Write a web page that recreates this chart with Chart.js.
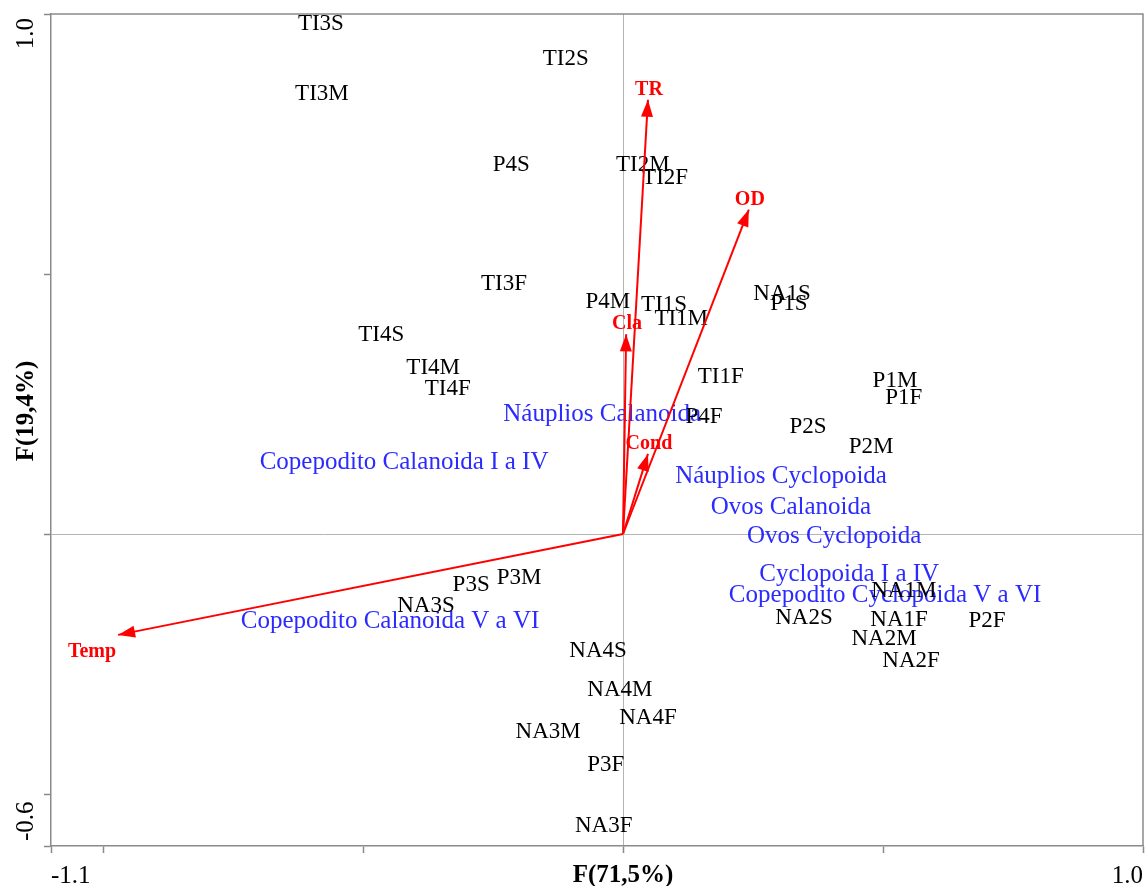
<!DOCTYPE html>
<html>
<head>
<meta charset="utf-8">
<title>CCA</title>
<script src="https://cdn.jsdelivr.net/npm/chart.js@4.4.1/dist/chart.umd.min.js"></script>
<style>
    html, body { margin: 0; padding: 0; background: #fff; }
    #wrap { width: 1147px; height: 886px; }
</style>
</head>
<body>
<div id="wrap"><canvas id="myChart"></canvas></div>
<script>
// amostras (scores)
const sampleNames = ["TI3S", "TI2S", "TI3M", "TI2M", "TI2F", "P4S", "TI3F", "P4M", "TI1S", "TI1M",
    "NA1S", "P1S", "TI4S", "TI4M", "TI4F", "TI1F", "P1M", "P1F", "P4F", "P2S", "P2M",
    "P3S", "P3M", "NA3S", "NA1M", "NA2S", "NA1F", "P2F", "NA2M", "NA2F",
    "NA4S", "NA4M", "NA4F", "NA3M", "P3F", "NA3F"];
const sampleX = [-0.581, -0.110, -0.579, 0.038, 0.081, -0.215, -0.229, -0.029, 0.079, 0.112,
    0.306, 0.319, -0.465, -0.365, -0.337, 0.188, 0.523, 0.540, 0.156, 0.356, 0.477,
    -0.292, -0.200, -0.379, 0.540, 0.348, 0.531, 0.700, 0.502, 0.554,
    -0.048, -0.006, 0.048, -0.144, -0.033, -0.037];
const sampleY = [0.985, 0.917, 0.850, 0.714, 0.689, 0.714, 0.484, 0.451, 0.445, 0.418,
    0.466, 0.447, 0.386, 0.324, 0.282, 0.305, 0.298, 0.265, 0.228, 0.209, 0.171,
    -0.094, -0.081, -0.134, -0.106, -0.157, -0.161, -0.163, -0.198, -0.240,
    -0.221, -0.296, -0.349, -0.376, -0.440, -0.557];

// espécies
const speciesNames = ["Náuplios Calanoida", "Copepodito Calanoida I a IV", "Náuplios Cyclopoida",
    "Ovos Calanoida", "Ovos Cyclopoida", "Cyclopoida I a IV", "Copepodito Cyclopoida V a VI",
    "Copepodito Calanoida V a VI"];
const speciesX = [-0.040, -0.421, 0.304, 0.323, 0.406, 0.435, 0.504, -0.448];
const speciesY = [0.234, 0.142, 0.115, 0.054, 0.000, -0.073, -0.115, -0.165];

// variáveis ambientais
const envNames = ["TR", "OD", "Cla", "Cond", "Temp"];
const envX = [0.048, 0.242, 0.006, 0.048, -0.971];
const envY = [0.835, 0.624, 0.384, 0.154, -0.194];

const xMin = -1.1, xMax = 1.0;
const yMin = -0.6, yMax = 1.0;
const xTicks = [-1.1, -1.0, -0.5, 0, 0.5, 1.0];
const yTicks = [-0.6, -0.5, 0, 0.5, 1.0];

const serif = '"Liberation Serif", "Times New Roman", serif';
const axisGray = "#8a8a8a";

let datasets = [];
datasets.push({
    label: "Amostras",
    data: sampleNames.map((n, i) => ({ x: sampleX[i], y: sampleY[i] })),
    pointRadius: 0,
    showLine: false
});
datasets.push({
    label: "Espécies",
    data: speciesNames.map((n, i) => ({ x: speciesX[i], y: speciesY[i] })),
    pointRadius: 0,
    showLine: false
});
envNames.forEach((n, i) => {
    datasets.push({
        label: n,
        data: [{ x: 0, y: 0 }, { x: envX[i], y: envY[i] }],
        showLine: true,
        borderColor: "#ff0000",
        borderWidth: 2,
        pointRadius: 0
    });
});

const labelsPlugin = {
    id: "labels",
    beforeDatasetsDraw(chart) {
        const ctx = chart.ctx;
        const area = chart.chartArea;
        ctx.save();
        // moldura
        ctx.strokeStyle = axisGray;
        ctx.lineWidth = 1.5;
        ctx.beginPath();
        ctx.moveTo(area.left, area.top);
        ctx.lineTo(area.right, area.top);
        ctx.lineTo(area.right, area.bottom);
        ctx.stroke();

        ctx.textAlign = "center";
        ctx.textBaseline = "middle";
        // espécies (azul)
        ctx.font = "25px " + serif;
        ctx.fillStyle = "#2b2bff";
        chart.getDatasetMeta(1).data.forEach((el, i) => {
            ctx.fillText(speciesNames[i], el.x, el.y + 2);
        });
        // amostras (preto)
        ctx.font = "23px " + serif;
        ctx.fillStyle = "#000";
        chart.getDatasetMeta(0).data.forEach((el, i) => {
            ctx.fillText(sampleNames[i], el.x, el.y + 2);
        });
        ctx.restore();
    },
    afterDatasetsDraw(chart) {
        const ctx = chart.ctx;
        ctx.save();
        ctx.fillStyle = "#ff0000";
        ctx.font = "bold 20px " + serif;
        envNames.forEach((n, i) => {
            const pts = chart.getDatasetMeta(2 + i).data;
            const x0 = pts[0].x, y0 = pts[0].y, x1 = pts[1].x, y1 = pts[1].y;
            const len = Math.hypot(x1 - x0, y1 - y0);
            const ux = (x1 - x0) / len, uy = (y1 - y0) / len;
            const head = 17, half = 6;
            ctx.beginPath();
            ctx.moveTo(x1, y1);
            ctx.lineTo(x1 - ux * head - uy * half, y1 - uy * head + ux * half);
            ctx.lineTo(x1 - ux * head + uy * half, y1 - uy * head - ux * half);
            ctx.closePath();
            ctx.fill();

            ctx.textBaseline = "alphabetic";
            if (Math.abs(ux) > Math.abs(uy)) {
                ctx.textAlign = ux < 0 ? "right" : "left";
                ctx.fillText(n, x1 - 2, y1 + 22);
            } else {
                ctx.textAlign = "center";
                ctx.fillText(n, x1 + 1, y1 - 5);
            }
        });
        ctx.restore();
    },
    afterDraw(chart) {
        const ctx = chart.ctx;
        const area = chart.chartArea;
        const xs = chart.scales.x;
        ctx.save();
        ctx.fillStyle = "#000";
        ctx.font = "25px " + serif;
        ctx.textBaseline = "alphabetic";
        ctx.textAlign = "left";
        ctx.fillText(xMin.toFixed(1), area.left, 883);
        ctx.textAlign = "right";
        ctx.fillText(xMax.toFixed(1), area.right, 883);

        ctx.save();
        ctx.translate(33, area.top + 4);
        ctx.rotate(-Math.PI / 2);
        ctx.textAlign = "right";
        ctx.fillText(yMax.toFixed(1), 0, 0);
        ctx.restore();

        ctx.save();
        ctx.translate(33, area.bottom - 5);
        ctx.rotate(-Math.PI / 2);
        ctx.textAlign = "left";
        ctx.fillText(yMin.toFixed(1), 0, 0);
        ctx.restore();

        ctx.font = "bold 25px " + serif;
        ctx.textAlign = "center";
        ctx.fillText("F(71,5%)", xs.getPixelForValue(0), 882);

        ctx.save();
        ctx.translate(33, 411);
        ctx.rotate(-Math.PI / 2);
        ctx.fillText("F(19,4%)", 0, 0);
        ctx.restore();
        ctx.restore();
    }
};

function gridColor(c) {
    return c.tick && c.tick.value === 0 ? "#b4b4b4" : "rgba(0,0,0,0)";
}

new Chart(document.getElementById("myChart"), {
    type: "scatter",
    data: { datasets: datasets },
    options: {
        responsive: true,
        maintainAspectRatio: false,
        animation: false,
        layout: { padding: { left: 0, top: 14, right: 4, bottom: 0 } },
        plugins: {
            legend: { display: false },
            tooltip: { enabled: false }
        },
        scales: {
            x: {
                type: "linear",
                min: xMin,
                max: xMax,
                afterBuildTicks: s => { s.ticks = xTicks.map(v => ({ value: v })); },
                afterFit: s => { s.height = 40; },
                ticks: { display: false },
                grid: { color: gridColor, lineWidth: 1, tickColor: axisGray, tickLength: 7, tickWidth: 1.5 },
                border: { color: axisGray, width: 1.5 }
            },
            y: {
                type: "linear",
                min: yMin,
                max: yMax,
                afterBuildTicks: s => { s.ticks = yTicks.map(v => ({ value: v })); },
                afterFit: s => { s.width = 51; },
                ticks: { display: false },
                grid: { color: gridColor, lineWidth: 1, tickColor: axisGray, tickLength: 7, tickWidth: 1.5 },
                border: { color: axisGray, width: 1.5 }
            }
        }
    },
    plugins: [labelsPlugin]
});
</script>
</body>
</html>
